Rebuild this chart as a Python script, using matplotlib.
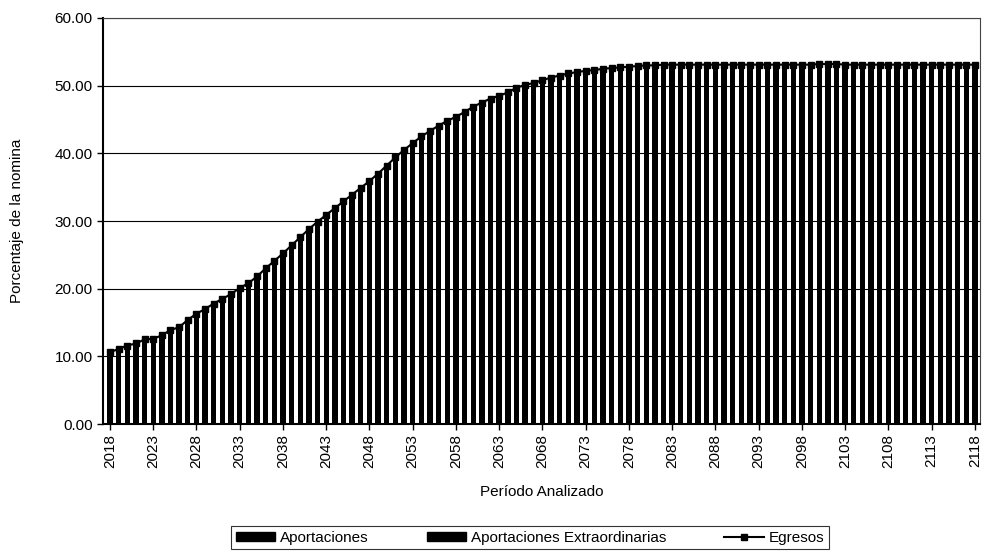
import numpy as np
import matplotlib
matplotlib.use("Agg")
import matplotlib.pyplot as plt
from matplotlib.lines import Line2D
from matplotlib.patches import Patch

plt.rcParams['font.family'] = ['Liberation Sans', 'DejaVu Sans']

years = list(range(2018, 2119))

# Egresos, percentage of payroll
egresos = [
    10.6, 11.1, 11.6, 11.9, 12.5, 12.6, 13.1, 13.9, 14.3, 15.4,
    16.3, 17.0, 17.8, 18.5, 19.2, 20.1, 20.8, 21.8, 23.0, 24.1,
    25.2, 26.4, 27.6, 28.8, 29.9, 30.9, 31.9, 32.9, 33.9, 34.9,
    35.9, 37.0, 38.2, 39.4, 40.5, 41.5, 42.5, 43.3, 44.1, 44.8,
    45.4, 46.1, 46.9, 47.5, 48.1, 48.5, 49.0, 49.7, 50.1, 50.4,
    50.8, 51.2, 51.5, 51.8, 52.0, 52.2, 52.3, 52.5, 52.6, 52.7,
    52.8, 52.9, 53.0, 53.0, 53.1, 53.1, 53.1, 53.1, 53.1, 53.1,
    53.1, 53.1, 53.1, 53.1, 53.1, 53.1, 53.1, 53.1, 53.1, 53.1,
    53.1, 53.1, 53.2, 53.2, 53.2, 53.1, 53.1, 53.1, 53.1, 53.1,
    53.1, 53.1, 53.1, 53.1, 53.1, 53.1, 53.1, 53.1, 53.1, 53.1,
    53.1,
]
# contributions cover the outflows each year; no extraordinary ones
aportaciones = list(egresos)
aportaciones_extra = [0.0] * len(years)

tick_years = years[::5]

fig = plt.figure(figsize=(9.85, 5.55), dpi=100)
ax = fig.add_axes([0.1046, 0.236, 0.8904, 0.7316])

ax.bar(years, aportaciones, width=0.62, color='black', zorder=2)
ax.bar(years, aportaciones_extra, bottom=aportaciones, width=0.62,
       color='black', zorder=2)
ax.plot(years, egresos, color='black', lw=1.5, marker='s',
        markersize=5, zorder=3)

ax.set_ylim(0, 60)
ax.set_xlim(2017.2, 2118.6)
ax.set_yticks(range(0, 61, 10))
ax.set_yticklabels(['{:.2f}'.format(v) for v in range(0, 61, 10)])
ax.set_xticks(tick_years)
ax.set_xticklabels([str(y) for y in tick_years], rotation=90)
ax.tick_params(axis='both', labelsize=11, colors='black', length=4,
               width=1, direction='out')
ax.yaxis.grid(True, color='black', lw=0.8, zorder=1)
ax.set_axisbelow(True)

for side in ['left', 'bottom']:
    ax.spines[side].set_linewidth(1.5)
for side in ['top', 'right']:
    ax.spines[side].set_linewidth(0.8)
    ax.spines[side].set_color('#444444')

ax.set_ylabel('Porcentaje de la nomina', fontsize=11, labelpad=22)
ax.set_xlabel('Período Analizado', fontsize=11, labelpad=12)

handles = [
    Patch(facecolor='black', edgecolor='black'),
    Patch(facecolor='black', edgecolor='black'),
    Line2D([0], [0], color='black', lw=1.5, marker='s', markersize=5),
]
labels = ['Aportaciones', 'Aportaciones Extraordinarias', 'Egresos']
leg = fig.legend(handles, labels, loc='center', ncol=3,
                 bbox_to_anchor=(0.538, 0.031), frameon=True, fancybox=False,
                 fontsize=11, handlelength=2.6, handleheight=0.5,
                 handletextpad=0.3, columnspacing=3.8, borderpad=0.3,
                 borderaxespad=0)
leg.get_frame().set_edgecolor('black')
leg.get_frame().set_linewidth(0.8)

fig.savefig('out.png', dpi=100)
